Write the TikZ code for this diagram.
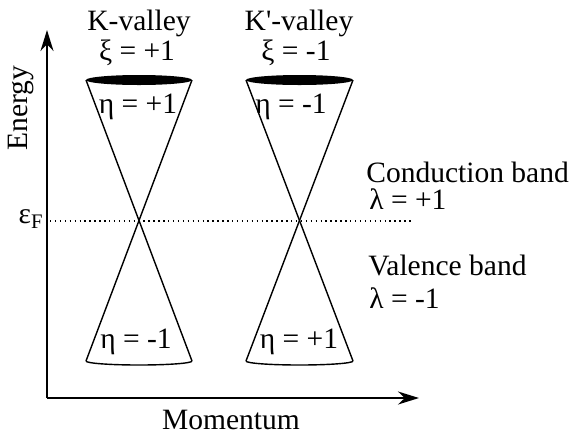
\documentclass[tikz,border=0pt]{standalone}
\usepackage{fontspec}
\setmainfont{Liberation Serif}
\usetikzlibrary{arrows.meta,positioning,calc}
\tikzset{
    bandlabel/.style={font=\fontsize{16.8}{19}\selectfont, inner sep=0pt, anchor=west},
    valleylabel/.style={font=\fontsize{16.8}{19}\selectfont, inner sep=0pt},
    axisarrow/.style={-{Stealth[length=4.2mm, width=2.6mm]}, line width=1.1pt},
    coneline/.style={line width=0.8pt},
    fermiline/.style={dotted, line width=0.8pt}
}

\begin{document}
\begin{tikzpicture}[x=0.02cm, y=-0.02cm]
\useasboundingbox (0,0) rectangle (571,434);
% axes
\coordinate (origin) at (47,398);
\coordinate (etip) at (47,30);
\coordinate (ptip) at (419,398);
\draw[axisarrow] (origin) -- (etip);
\draw[axisarrow] (origin) -- (ptip);
\node[valleylabel, rotate=90] (energy) at (21,108) {Energy};
\node[valleylabel] (momentum) at (231,420) {Momentum};
% Fermi level
\node[valleylabel] (fermi) at (31,219) {ε\textsubscript{F}};
\coordinate (fstart) at (50,221);
\coordinate (fend) at (413,221);
\draw[fermiline] (fstart) -- (fend);
% K cone
\coordinate (ktl) at (86,80);
\coordinate (ktr) at (192,80);
\coordinate (kbl) at (86,361);
\coordinate (kbr) at (192,361);
\draw[coneline] (ktl) -- (kbr);
\draw[coneline] (ktr) -- (kbl);
\fill (139,80) ellipse [x radius=53, y radius=5];
\draw[coneline] (kbl) arc [start angle=180, end angle=360, x radius=53, y radius=-4];
% K' cone
\coordinate (qtl) at (246,80);
\coordinate (qtr) at (353,80);
\coordinate (qbl) at (246,361);
\coordinate (qbr) at (353,361);
\draw[coneline] (qtl) -- (qbr);
\draw[coneline] (qtr) -- (qbl);
\fill (299.5,80) ellipse [x radius=53.5, y radius=5];
\draw[coneline] (qbl) arc [start angle=180, end angle=360, x radius=53.5, y radius=-4];
% valley labels
\node[valleylabel] (kval) at (139,23) {K-valley};
\node[valleylabel] (kxi) at (137,53) {ξ = +1};
\node[valleylabel] (qval) at (299,23) {K\textquotesingle-valley};
\node[valleylabel] (qxi) at (296,53) {ξ = -1};
\node[valleylabel] (keta1) at (138,107) {η = +1};
\node[valleylabel] (qeta1) at (291,107) {η = -1};
\node[valleylabel] (keta2) at (136,342) {η = -1};
\node[valleylabel] (qeta2) at (299,342) {η = +1};
% band labels
\node[bandlabel] (cond) at (366,172) {Conduction band};
\node[bandlabel] (lamc) at (369,199) {λ = +1};
\node[bandlabel] (val) at (368,265) {Valence band};
\node[bandlabel] (lamv) at (369,298) {λ = -1};
\end{tikzpicture}
\end{document}
